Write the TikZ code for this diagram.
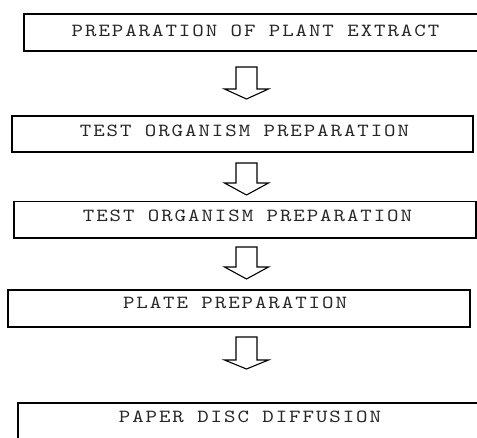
\documentclass[tikz,border=0pt]{standalone}
\usepackage{fontspec}
\newfontfamily\steptt{lmmono10-regular}[Extension=.otf, FakeStretch=1.18, LetterSpace=10.5]
\begin{document}
\begin{tikzpicture}[x=1pt,y=-1pt,
  stepbox/.style={draw=black, line width=1.7pt, rectangle, inner sep=0pt},
  steplabel/.style={inner sep=0pt, text=black!85, font=\steptt\fontsize{18.5}{20}\selectfont},
  blockarrow/.style={draw=black, line width=1.1pt, fill=white, line join=miter}]
\clip (0,0) rectangle (477,437);
\fill[white] (0,0) rectangle (477,437);
% boxes
\node[stepbox, minimum width=466pt, minimum height=37pt] (b1) at (257,32.5) {};
\node[stepbox, minimum width=461pt, minimum height=36pt] (b2) at (242.5,134) {};
\node[stepbox, minimum width=462pt, minimum height=36.5pt] (b3) at (245,219.75) {};
\node[stepbox, minimum width=462pt, minimum height=37pt] (b4) at (239,308.5) {};
\node[stepbox, minimum width=472pt, minimum height=42pt] (b5) at (254,424) {};
% labels
\node[steplabel] (t1) at (255.5,30.5) {PREPARATION OF PLANT EXTRACT};
\node[steplabel] (t2) at (244.5,130.5) {TEST ORGANISM PREPARATION};
\node[steplabel] (t3) at (247.5,216) {TEST ORGANISM PREPARATION};
\node[steplabel] (t4) at (235,303) {PLATE PREPARATION};
\node[steplabel] (t5) at (250,417) {PAPER DISC DIFFUSION};
% block arrows
\coordinate (a1) at (246.5,67);
\coordinate (a2) at (246.5,163);
\coordinate (a3) at (246.5,247);
\coordinate (a4) at (246.5,337);
\foreach \a/\s/\h in {a1/22/10, a2/20/12, a3/20/12, a4/23/9}{
  \draw[blockarrow] (\a) -- ++(10.5,0) -- ++(0,\s) -- ++(11.5,0) -- ++(-22,\h)
    -- ++(-22,-\h) -- ++(11.5,0) -- ++(0,-\s) -- cycle;
}
\end{tikzpicture}
\end{document}
